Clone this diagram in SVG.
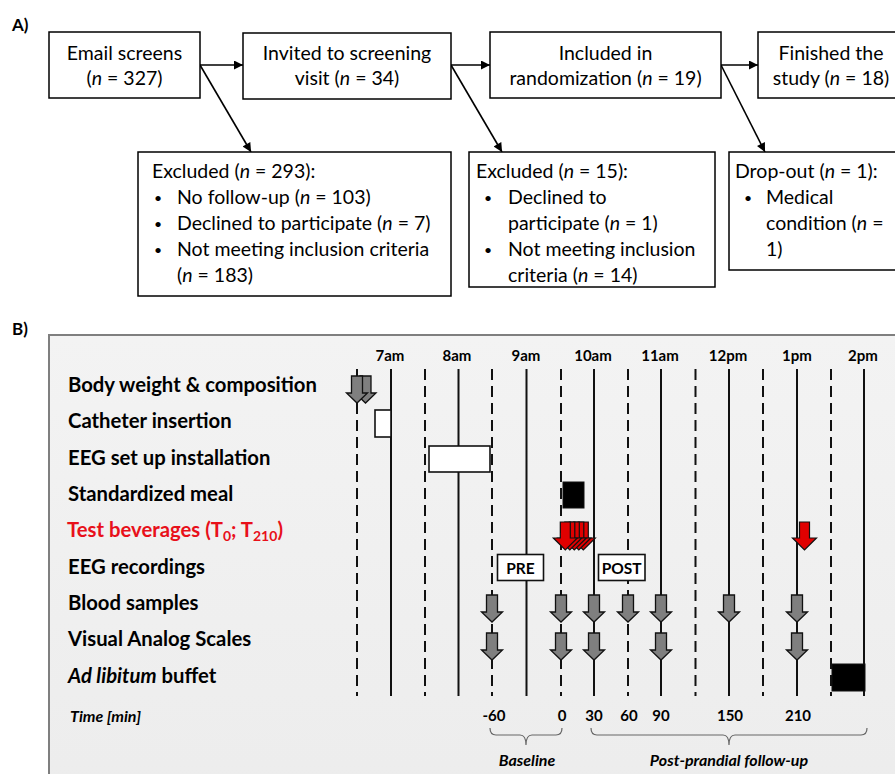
<svg xmlns="http://www.w3.org/2000/svg" width="895" height="774" viewBox="0 0 895 774">
<defs>
<style>
text{font-family:Lato,"Liberation Sans",Arial,sans-serif;fill:#000}
.t{font-size:19.5px}
.bu{font-size:14px}
.c{text-anchor:middle}
.box{fill:#fff;stroke:#000;stroke-width:1.5}
.con{stroke:#000;stroke-width:1.6;fill:none}
.pl{font-size:17px;font-weight:bold}
.lbl{font-size:20.3px;font-weight:bold}
.hr{font-size:15px;font-weight:bold;text-anchor:middle}
.tm{font-size:15px;font-weight:bold;text-anchor:middle}
.bi{font-size:16px;font-weight:bold;font-style:italic}
.sol{stroke:#111;stroke-width:2}
.dash{stroke:#111;stroke-width:2;stroke-dasharray:11 6}
.ga{fill:#7f7f7f;stroke:#111;stroke-width:1.3}
.ra{fill:#e00000;stroke:#111;stroke-width:1.2}
.wb{fill:#fff;stroke:#111;stroke-width:1.6}
.bk{fill:#000;stroke:#111;stroke-width:1}
.br{fill:none;stroke:#666;stroke-width:1.2}
</style>
<marker id="ah" viewBox="0 0 10 10" refX="10" refY="5" markerUnits="userSpaceOnUse" markerWidth="11" markerHeight="9" orient="auto"><path d="M0,0L10,5L0,10z" fill="#000"/></marker>
<path id="ga" d="M-5.5,0h11v17h5l-10.5,10l-10.5,-10h5z"/>
<path id="ra" d="M-5,0h10v16h7l-12,12l-12,-12h7z"/>
<linearGradient id="bg" x1="0" y1="0" x2="0" y2="1"><stop offset="0" stop-color="#f3f3f3"/><stop offset="1" stop-color="#ececec"/></linearGradient>
</defs>

<text class="pl" x="12" y="31">A)</text>

<g id="connectors">
<line class="con" x1="200" y1="65" x2="243" y2="65" marker-end="url(#ah)"/>
<line class="con" x1="451" y1="65" x2="490" y2="65" marker-end="url(#ah)"/>
<line class="con" x1="721" y1="65" x2="758" y2="65" marker-end="url(#ah)"/>
<line class="con" x1="200" y1="65" x2="251" y2="152" marker-end="url(#ah)"/>
<line class="con" x1="451" y1="65" x2="502" y2="152" marker-end="url(#ah)"/>
<line class="con" x1="721" y1="65" x2="765" y2="152" marker-end="url(#ah)"/>
</g>

<g id="email">
<rect class="box" x="49" y="32" width="151" height="66"/>
<text class="t c" x="124.5" y="59.5">Email screens</text>
<text class="t c" x="124.5" y="85">(<tspan font-style="italic">n</tspan> = 327)</text>
</g>
<g id="invited">
<rect class="box" x="243" y="33" width="208" height="66"/>
<text class="t c" x="347" y="59.5">Invited to screening</text>
<text class="t c" x="347" y="85">visit (<tspan font-style="italic">n</tspan> = 34)</text>
</g>
<g id="included">
<rect class="box" x="490" y="32" width="231" height="66"/>
<text class="t c" x="605.5" y="59.5">Included in</text>
<text class="t c" x="605.5" y="85">randomization (<tspan font-style="italic">n</tspan> = 19)</text>
</g>
<g id="finished">
<rect class="box" x="758" y="32" width="150" height="66"/>
<text class="t c" x="831" y="59.5">Finished the</text>
<text class="t c" x="831" y="85">study (<tspan font-style="italic">n</tspan> = 18)</text>
</g>

<g id="excluded1">
<rect class="box" x="138" y="152" width="313" height="144"/>
<text class="t" x="152" y="178">Excluded (<tspan font-style="italic">n</tspan> = 293):</text>
<text class="bu" x="154" y="203">•</text><text class="t" x="177" y="204">No follow-up (<tspan font-style="italic">n</tspan> = 103)</text>
<text class="bu" x="154" y="229">•</text><text class="t" x="177" y="230">Declined to participate (<tspan font-style="italic">n</tspan> = 7)</text>
<text class="bu" x="154" y="255">•</text><text class="t" x="177" y="256">Not meeting inclusion criteria</text>
<text class="t" x="177" y="282">(<tspan font-style="italic">n</tspan> = 183)</text>
</g>
<g id="excluded2">
<rect class="box" x="469" y="152" width="246" height="135"/>
<text class="t" x="476" y="178">Excluded (<tspan font-style="italic">n</tspan> = 15):</text>
<text class="bu" x="484" y="203">•</text><text class="t" x="508" y="204">Declined to</text>
<text class="t" x="508" y="230">participate (<tspan font-style="italic">n</tspan> = 1)</text>
<text class="bu" x="484" y="255">•</text><text class="t" x="508" y="256">Not meeting inclusion</text>
<text class="t" x="508" y="282">criteria (<tspan font-style="italic">n</tspan> = 14)</text>
</g>
<g id="dropout">
<rect class="box" x="729" y="152" width="180" height="118"/>
<text class="t" x="735" y="178">Drop-out (<tspan font-style="italic">n</tspan> = 1):</text>
<text class="bu" x="744" y="203">•</text><text class="t" x="766" y="204">Medical</text>
<text class="t" x="766" y="230">condition (<tspan font-style="italic">n</tspan> =</text>
<text class="t" x="766" y="256">1)</text>
</g>

<text class="pl" x="12" y="335">B)</text>

<g id="panelB">
<rect x="49" y="335" width="900" height="500" fill="url(#bg)" stroke="#7f7f7f" stroke-width="2"/>

<g id="hours">
<text class="hr" x="390" y="361">7am</text>
<text class="hr" x="457" y="361">8am</text>
<text class="hr" x="526" y="361">9am</text>
<text class="hr" x="593" y="361">10am</text>
<text class="hr" x="660" y="361">11am</text>
<text class="hr" x="728" y="361">12pm</text>
<text class="hr" x="797" y="361">1pm</text>
<text class="hr" x="863" y="361">2pm</text>
</g>

<g id="gridlines">
<line class="sol" x1="391" y1="369" x2="391" y2="696"/>
<line class="sol" x1="458.5" y1="369" x2="458.5" y2="696"/>
<line class="sol" x1="526.5" y1="369" x2="526.5" y2="696"/>
<line class="sol" x1="594" y1="369" x2="594" y2="696"/>
<line class="sol" x1="661" y1="369" x2="661" y2="696"/>
<line class="sol" x1="729" y1="369" x2="729" y2="696"/>
<line class="sol" x1="797" y1="369" x2="797" y2="696"/>
<line class="sol" x1="864" y1="369" x2="864" y2="696"/>
<line class="dash" x1="357" y1="369" x2="357" y2="696"/>
<line class="dash" x1="425" y1="369" x2="425" y2="696"/>
<line class="dash" x1="492" y1="369" x2="492" y2="696"/>
<line class="dash" x1="561" y1="369" x2="561" y2="696"/>
<line class="dash" x1="628" y1="369" x2="628" y2="696"/>
<line class="dash" x1="695.5" y1="369" x2="695.5" y2="696"/>
<line class="dash" x1="763" y1="369" x2="763" y2="696"/>
<line class="dash" x1="831" y1="369" x2="831" y2="696"/>
</g>

<g id="labels">
<text class="lbl" x="68" y="392">Body weight &amp; composition</text>
<text class="lbl" x="68" y="428">Catheter insertion</text>
<text class="lbl" x="68" y="465">EEG set up installation</text>
<text class="lbl" x="68" y="501">Standardized meal</text>
<text class="lbl" x="67" y="537" style="fill:#e8101a">Test beverages (T<tspan font-size="14" dy="4" style="fill:#e8101a">0</tspan><tspan dy="-4" style="fill:#e8101a">; T</tspan><tspan font-size="14" dy="4" style="fill:#e8101a">210</tspan><tspan dy="-4" style="fill:#e8101a">)</tspan></text>
<text class="lbl" x="68" y="574">EEG recordings</text>
<text class="lbl" x="68" y="610">Blood samples</text>
<text class="lbl" x="68" y="646">Visual Analog Scales</text>
<text class="lbl" x="68" y="683"><tspan font-style="italic">Ad libitum</tspan> buffet</text>
</g>

<g id="bodyweight">
<use href="#ga" x="365.5" y="376" class="ga"/>
<use href="#ga" x="357" y="376" class="ga"/>
</g>
<g id="catheter"><rect class="wb" x="375" y="410" width="16" height="27"/></g>
<g id="eegsetup"><rect class="wb" x="429" y="446" width="61" height="26"/></g>
<g id="meal"><rect class="bk" x="563" y="482" width="21" height="26"/></g>
<g id="beverages">
<use href="#ra" x="583.3" y="522" class="ra"/>
<use href="#ra" x="578.8" y="522" class="ra"/>
<use href="#ra" x="574.3" y="522" class="ra"/>
<use href="#ra" x="569.8" y="522" class="ra"/>
<use href="#ra" x="565.3" y="522" class="ra"/>
<use href="#ra" x="804.5" y="522" class="ra"/>
</g>
<g id="eegrec">
<rect class="wb" x="497.5" y="554.5" width="46" height="26"/>
<text x="520.5" y="574" class="c" font-size="15.5" font-weight="bold">PRE</text>
<rect class="wb" x="598.5" y="554.5" width="46.5" height="26"/>
<text x="621.7" y="574" class="c" font-size="15.5" font-weight="bold">POST</text>
</g>
<g id="blood">
<use href="#ga" x="492" y="595" class="ga"/>
<use href="#ga" x="561" y="595" class="ga"/>
<use href="#ga" x="594" y="595" class="ga"/>
<use href="#ga" x="628" y="595" class="ga"/>
<use href="#ga" x="661" y="595" class="ga"/>
<use href="#ga" x="729" y="595" class="ga"/>
<use href="#ga" x="797" y="595" class="ga"/>
</g>
<g id="vas">
<use href="#ga" x="492" y="633" class="ga"/>
<use href="#ga" x="561" y="633" class="ga"/>
<use href="#ga" x="594" y="633" class="ga"/>
<use href="#ga" x="661" y="633" class="ga"/>
<use href="#ga" x="797" y="633" class="ga"/>
</g>
<g id="buffet"><rect class="bk" x="832" y="664" width="33" height="27"/></g>

<g id="timeaxis">
<text class="bi" x="70" y="722" font-size="14.5">Time [min]</text>
<text class="tm" x="494" y="721">-60</text>
<text class="tm" x="562" y="721">0</text>
<text class="tm" x="594" y="721">30</text>
<text class="tm" x="629" y="721">60</text>
<text class="tm" x="661" y="721">90</text>
<text class="tm" x="730" y="721">150</text>
<text class="tm" x="798" y="721">210</text>
<path class="br" d="M490,728Q490,735 496,735L520,735Q526,735 526,745Q526,735 532,735L556,735Q562,735 562,728"/>
<path class="br" d="M591,728Q591,735 597,735L723,735Q729,735 729,745Q729,735 735,735L861,735Q867,735 867,728"/>
<text class="bi c" x="527" y="766">Baseline</text>
<text class="bi c" x="729" y="766">Post-prandial follow-up</text>
</g>
</g>
</svg>
